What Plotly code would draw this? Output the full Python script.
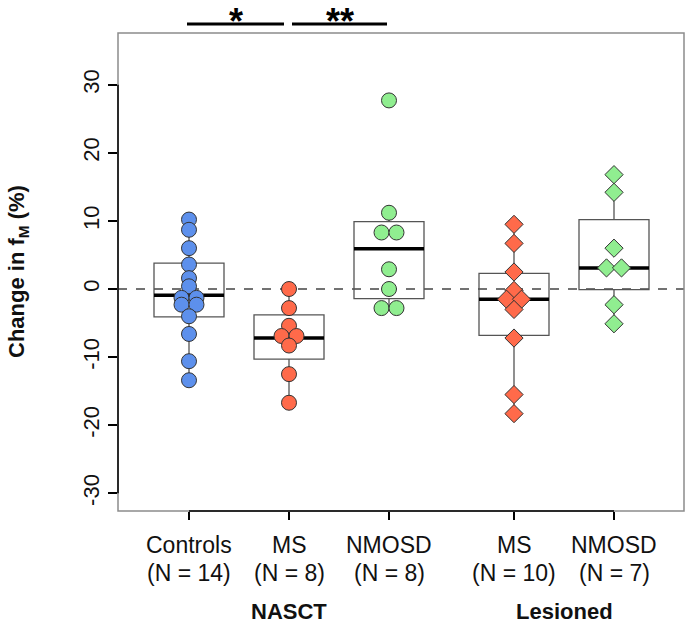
import plotly.graph_objects as go

# ---------------- data ----------------
group_names = ["Controls", "MS", "NMOSD", "MS", "NMOSD"]
group_counts = ["(N = 14)", "(N = 8)", "(N = 8)", "(N = 10)", "(N = 7)"]
cohort_names = ["NASCT", "Lesioned"]

controls = [10.2, 8.7, 6.0, 3.6, 1.6, 0.4, -1.3, -1.3, -2.3, -2.3, -4.0, -6.6, -10.6, -13.4]
ms_nasct = [0.0, -2.8, -5.4, -6.9, -6.9, -8.3, -12.5, -16.7]
nmosd_nasct = [27.7, 11.2, 8.3, 8.3, 2.9, 0.0, -2.8, -2.8]
ms_lesioned = [9.5, 6.7, 2.5, -0.2, -1.5, -1.5, -3.0, -7.2, -15.5, -18.3]
nmosd_lesioned = [16.8, 14.2, 6.0, 3.1, 3.1, -2.3, -5.1]

box_q1 = [-4.1, -10.3, -1.4, -6.8, -0.1]
box_median = [-0.9, -7.2, 5.9, -1.5, 3.1]
box_q3 = [3.8, -3.8, 9.9, 2.3, 10.2]
box_low = [-13.4, -16.7, -2.8, -18.3, -5.1]
box_high = [10.2, 0.0, 11.2, 9.5, 16.8]

y_ticks = [-30, -20, -10, 0, 10, 20, 30]
y_tick_labels = ["-30", "-20", "-10", "0", "10", "20", "30"]
sig_labels = ["*", "**"]

# ---------------- layout constants ----------------
W, H = 689, 626
ML, MR, MT, MB = 118, 5, 33, 115
x_pos = [1, 2, 3, 4.25, 5.25]
x_range = [0.29, 5.95]
y_range = [-32.6, 37.6]
cohort_pos = [2, 4.75]
colors = ["#5D90EC", "#FF6A4A", "#90EE90", "#FF6A4A", "#90EE90"]
symbols = ["circle", "circle", "circle", "diamond", "diamond"]
msizes = [15, 15, 15, 14, 14]
FONT = "Liberation Sans, Arial, sans-serif"
FS = 23

pw = W - ML - MR
ph = H - MT - MB
px_x = pw / (x_range[1] - x_range[0])


def py2paper(py):
    """page pixel y -> paper coordinate"""
    return (H - MB - py) / ph


def tie_offsets(vals, spacing_px):
    """Centre each point; spread exact ties symmetrically (beeswarm 'center' style)."""
    offs = [0.0] * len(vals)
    groups = {}
    for i, v in enumerate(vals):
        groups.setdefault(v, []).append(i)
    for v, idx in groups.items():
        n = len(idx)
        for k, i in enumerate(idx):
            offs[i] = (k - (n - 1) / 2) * spacing_px
    return offs


series = [controls, ms_nasct, nmosd_nasct, ms_lesioned, nmosd_lesioned]

fig = go.Figure()

# boxes
fig.add_trace(go.Box(
    x=x_pos, q1=box_q1, median=box_median, q3=box_q3,
    lowerfence=box_low, upperfence=box_high,
    width=0.7, whiskerwidth=0, boxpoints=False,
    line=dict(color="#555555", width=1.3),
    fillcolor="rgba(0,0,0,0)", hoverinfo="skip", showlegend=False,
))

# median lines
for p, m in zip(x_pos, box_median):
    fig.add_trace(go.Scatter(
        x=[p - 0.35, p + 0.35], y=[m, m], mode="lines",
        line=dict(color="black", width=3.5), hoverinfo="skip", showlegend=False,
    ))

# points
for vals, p, col, sym, ms in zip(series, x_pos, colors, symbols, msizes):
    offs = tie_offsets(vals, 15)
    fig.add_trace(go.Scatter(
        x=[p + o / px_x for o in offs], y=vals, mode="markers",
        marker=dict(color=col, symbol=sym, size=ms, line=dict(color="#333333", width=1)),
        showlegend=False,
    ))

shapes = [
    dict(type="line", xref="paper", yref="y", x0=0, x1=1, y0=0, y1=0,
         line=dict(color="#444444", width=1.3, dash="dash"), layer="below"),
    dict(type="rect", xref="paper", yref="paper", x0=0, x1=1, y0=0, y1=1,
         line=dict(color="#8c8c8c", width=1.5)),
    dict(type="line", xref="paper", yref="y", x0=0, x1=0, y0=y_ticks[0], y1=y_ticks[-1],
         line=dict(color="black", width=1.5)),
    dict(type="line", xref="x", yref="paper", x0=x_pos[0], x1=x_pos[-1], y0=0, y1=0,
         line=dict(color="black", width=1.5)),
]

# significance bars
bar_y = py2paper(24)
sig_spans = [(x_pos[0] - 0.02, x_pos[1] - 0.05), (x_pos[1] + 0.03, x_pos[2] - 0.02)]
for (a, b) in sig_spans:
    shapes.append(dict(type="line", xref="x", yref="paper", x0=a, x1=b, y0=bar_y, y1=bar_y,
                       line=dict(color="black", width=3)))

annotations = []
for (a, b), s in zip(sig_spans, sig_labels):
    annotations.append(dict(x=(a + b) / 2, y=py2paper(0), xref="x", yref="paper",
                            text="<b>" + s + "</b>", showarrow=False, yanchor="top",
                            borderpad=0,
                            font=dict(family=FONT, size=36, color="black")))

for p, name, cnt in zip(x_pos, group_names, group_counts):
    annotations.append(dict(x=p, y=py2paper(545), xref="x", yref="paper", text=name,
                            showarrow=False, yanchor="middle",
                            font=dict(family=FONT, size=FS, color="#111111")))
    annotations.append(dict(x=p, y=py2paper(573), xref="x", yref="paper", text=cnt,
                            showarrow=False, yanchor="middle",
                            font=dict(family=FONT, size=FS, color="#111111")))
for p, name in zip(cohort_pos, cohort_names):
    annotations.append(dict(x=p, y=py2paper(611), xref="x", yref="paper",
                            text="<b>" + name + "</b>", showarrow=False, yanchor="middle",
                            font=dict(family=FONT, size=FS - 1, color="#111111")))

annotations.append(dict(x=0, y=0.5, xref="paper", yref="paper",
                        text="<b>Change in f<sub>M</sub> (%)</b>", showarrow=False,
                        textangle=-90, xanchor="center", yanchor="middle", xshift=-(ML - 18),
                        font=dict(family=FONT, size=FS - 1, color="#111111")))

fig.update_layout(
    template="none",
    width=W, height=H,
    margin=dict(l=ML, r=MR, t=MT, b=MB, pad=0),
    plot_bgcolor="white", paper_bgcolor="white",
    shapes=shapes, annotations=annotations,
    font=dict(family=FONT, color="#111111"),
    showlegend=False,
    xaxis=dict(range=x_range, tickvals=x_pos, showticklabels=False, ticks="outside",
               ticklen=8, tickwidth=1.5, tickcolor="black", showgrid=False,
               zeroline=False, showline=False, automargin=False),
    yaxis=dict(range=y_range, tickvals=y_ticks, ticktext=y_tick_labels, ticks="outside",
               ticklen=9, tickwidth=1.5, tickcolor="black", tickangle=-90, showgrid=False,
               zeroline=False, showline=False, automargin=False,
               tickfont=dict(family=FONT, size=FS - 1)),
)

fig.write_html("out.html", config={"displayModeBar": False},
               post_script="document.body.style.margin='0';")
